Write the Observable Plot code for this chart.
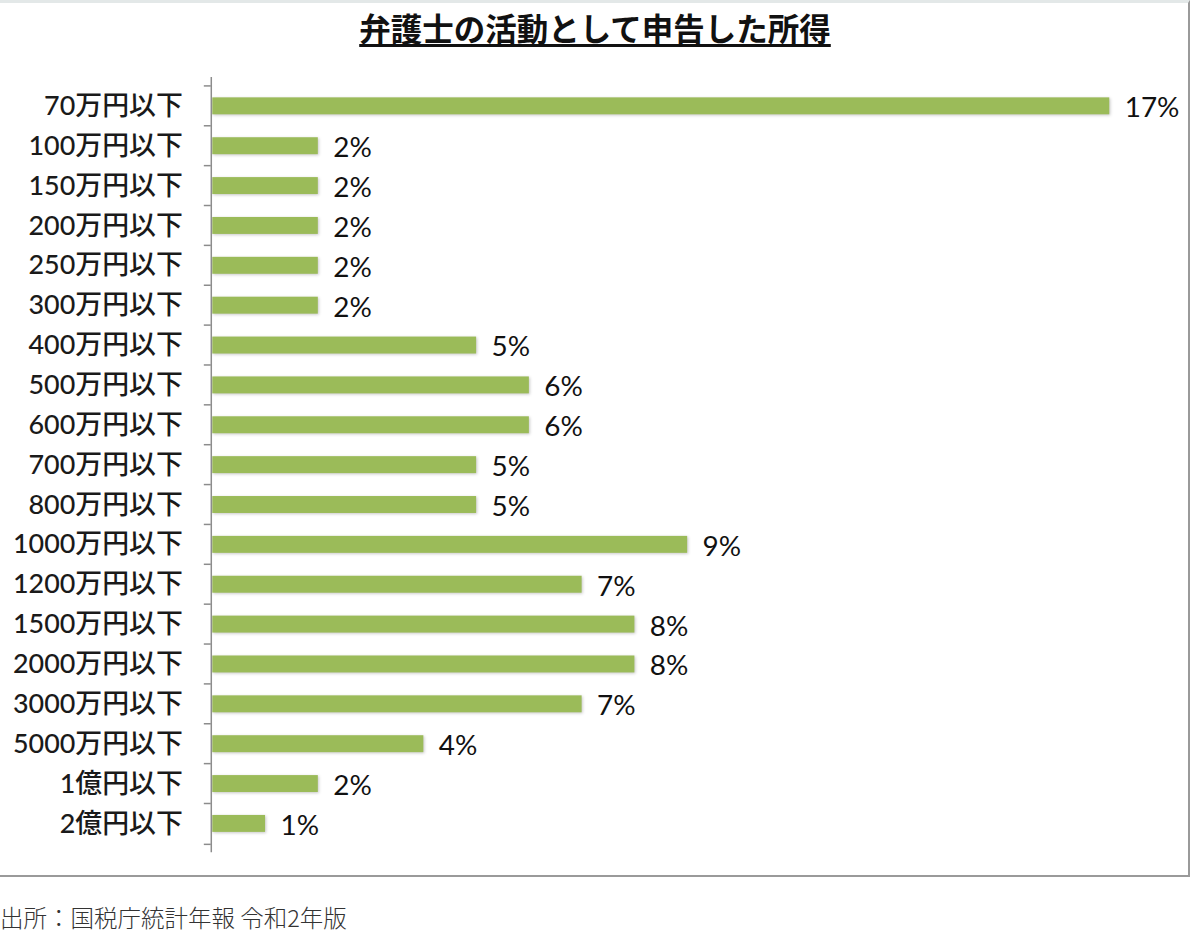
<!DOCTYPE html>
<html>
<head>
<meta charset="utf-8">
<script src="https://cdn.jsdelivr.net/npm/d3@7"></script>
<script src="https://cdn.jsdelivr.net/npm/@observablehq/plot@0.6"></script>
<style>
  html, body { margin: 0; padding: 0; background: #fff; }
  #wrap { position: relative; width: 1190px; height: 877px; border-right: 2px solid #9a9a9a; border-bottom: 2px solid #9a9a9a; border-top: 3px solid #e3e8e8; box-sizing: border-box; }
  #title { position: absolute; top: 1px; left: 0; width: 1190px; text-align: center; font-family: "Noto Sans CJK JP", sans-serif; font-weight: 700; font-size: 31.5px; text-decoration: underline; text-decoration-thickness: 3px; text-underline-offset: 3px; color: #111; }
  #chart { position: absolute; top: 57px; left: 0; }
  #caption { position: absolute; top: 900px; left: 0px; font-family: "Noto Sans CJK JP", sans-serif; font-size: 23.5px; font-weight: 300; color: #333; }
  #chart rect { filter: drop-shadow(1px 1.5px 1.5px rgba(0,0,0,0.22)); }
</style>
</head>
<body>
<div id="wrap">
  <div id="title">弁護士の活動として申告した所得</div>
  <div id="chart"></div>
</div>
<div id="caption">出所：国税庁統計年報 令和2年版</div>
<script>
const categories = ["70万円以下","100万円以下","150万円以下","200万円以下","250万円以下","300万円以下","400万円以下","500万円以下","600万円以下","700万円以下","800万円以下","1000万円以下","1200万円以下","1500万円以下","2000万円以下","3000万円以下","5000万円以下","1億円以下","2億円以下"];
const shares = [17,2,2,2,2,2,5,6,6,5,5,9,7,8,8,7,4,2,1];
const data = categories.map((c, i) => ({category: c, share: shares[i]}));

const chart = Plot.plot({
  width: 1192,
  height: 818,
  marginLeft: 213,
  marginRight: 79,
  marginTop: 17,
  marginBottom: 23,
  style: {fontFamily: "Lato, 'Noto Sans CJK JP', sans-serif", background: "transparent"},
  x: {domain: [0, 17], axis: null},
  y: {domain: categories, padding: 0, axis: null},
  marks: [
    Plot.barX(data, {x: "share", y: "category", fill: "#9bbb59", insetTop: 11.5, insetBottom: 11.5}),
    Plot.ruleX([0], {stroke: "#8c8c8c", strokeWidth: 1.5, dx: -1.5}),
    Plot.axisY({tickSize: 7, tickFormat: () => "", dy: -20.5, stroke: "#8c8c8c", strokeWidth: 1.5, label: null, dx: -1.5}),
    Plot.axisY({ticks: [categories[categories.length - 1]], tickSize: 7, tickFormat: () => "", dy: 20.5, stroke: "#8c8c8c", strokeWidth: 1.5, label: null, dx: -1.5}),
    Plot.axisY({tickSize: 0, tickPadding: 30, fontSize: 27, fill: "#1a1a1a", fontFamily: "Lato, 'Noto Sans CJK JP', sans-serif", fontWeight: 500, label: null}),
    Plot.text(data, {x: "share", y: "category", text: d => d.share + "%", textAnchor: "start", dx: 15, dy: 2, fontSize: 28, fill: "#111"})
  ]
});
document.getElementById("chart").appendChild(chart);
</script>
</body>
</html>
